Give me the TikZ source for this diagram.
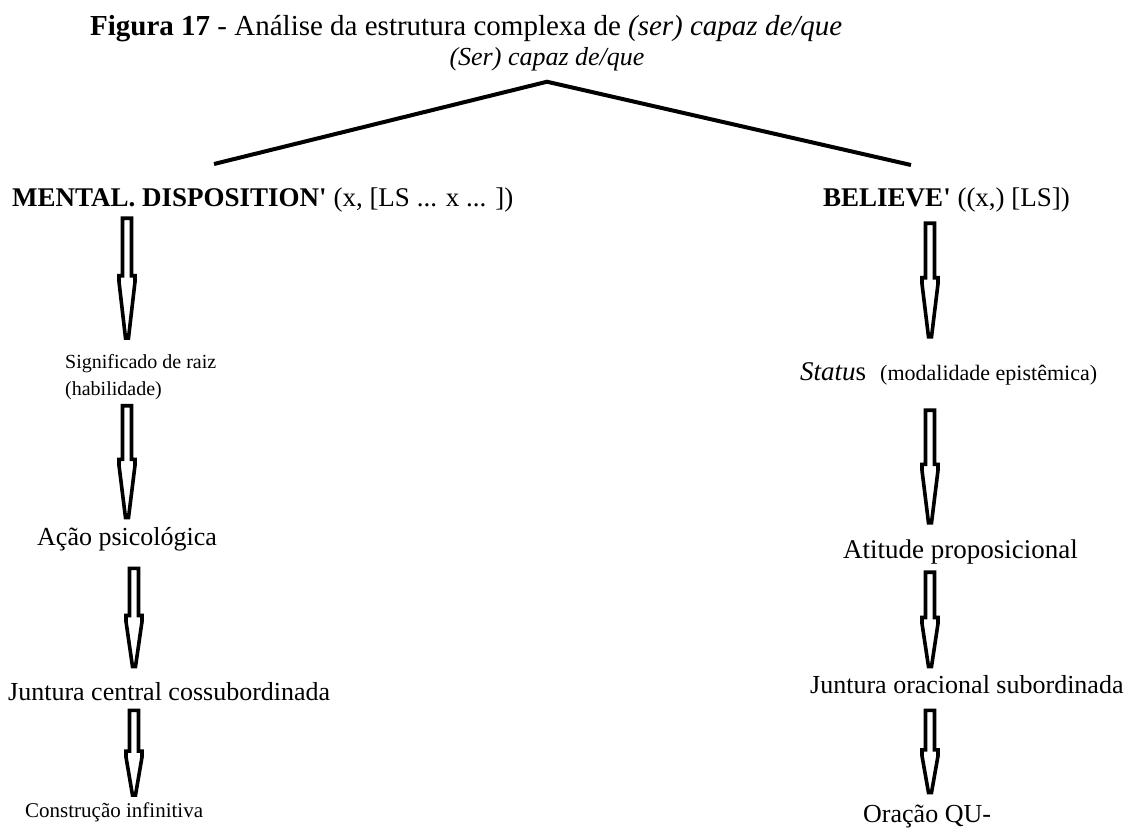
\documentclass[tikz,border=0pt]{standalone}
\usepackage{fontspec}
\setmainfont{Liberation Serif}
\usetikzlibrary{positioning,calc}

\newcommand{\fs}[1]{\fontsize{#1}{#1}\selectfont}

\tikzset{
  lbl/.style={inner sep=0pt, anchor=base west, font=\fs{#1},
    text height=\dimexpr #1pt*7/10\relax, text depth=\dimexpr #1pt*2/10\relax},
  branch/.style={line width=4pt},
  blockarr/.style={draw=black, fill=white, line width=3.6pt, line join=miter},
}

% hollow block arrow: from node, to node, column, top gap, tip gap
\newcommand{\blockarrow}[5]{%
  \draw[blockarr] let \p1=($(#1.south -| #3)+(0,#4)$), \p2=($(#2.north -| #3)+(0,-#5)$),
      \p3=($(\p1)!0.48!(\p2)$) in
    ({\x1-4.5pt},\y1) -- ({\x1+4.5pt},\y1) -- ({\x1+4.5pt},\y3) -- ({\x1+8pt},\y3)
    -- ({\x1+8pt},{\y3-6pt}) -- ({\x1+1.5pt},\y2) -- ({\x1-1.5pt},\y2)
    -- ({\x1-8pt},{\y3-6pt}) -- ({\x1-8pt},\y3) -- ({\x1-4.5pt},\y3) -- cycle;
}

\begin{document}
\begin{tikzpicture}[x=1pt, y=-1pt]
  \path[fill=white, use as bounding box] (0,0) rectangle (1130,830);

  % title and root
  \node[lbl=29] (caption) at (90,35)
    {\textbf{Figura 17} - Análise da estrutura complexa de \textit{(ser) capaz de/que}};
  \node[inner sep=0pt, anchor=base, font=\fs{26}\itshape] (root) at (547,65) {(Ser) capaz de/que};
  \coordinate[below=11pt of root] (apex);

  \node[lbl=27] (mental) at (12,206)
    {\textbf{MENTAL. DISPOSITION\textquotesingle} (x, [LS ... x ... ])};
  \node[lbl=27] (believe) at (823,206) {\textbf{BELIEVE\textquotesingle} ((x,) [LS])};

  \coordinate (lend) at (214,164);
  \coordinate (rend) at (911,165);
  \draw[branch] (lend) -- (apex) -- (rend);

  % left column
  \node[inner sep=0pt, anchor=north west, align=left, font=\fontsize{20}{27}\selectfont] (signif) at (65,354)
    {Significado de raiz\\(habilidade)};
  \node[lbl=26] (acao) at (37,545) {Ação psicológica};
  \node[lbl=26] (jcentral) at (8,700) {Juntura central cossubordinada};
  \node[lbl=21] (constr) at (25,817) {Construção infinitiva};

  % right column
  \node[lbl=27] (status) at (800,380)
    {\textit{Statu}s\hspace{14pt}{\fs{22}(modalidade epistêmica)}};
  \node[lbl=27] (atitude) at (843,558) {Atitude proposicional};
  \node[lbl=26] (joracional) at (810,693) {Juntura oracional subordinada};
  \node[lbl=26] (oracao) at (863,822) {Oração QU-};

  \coordinate (lcol) at (127,0);
  \coordinate (lcol2) at (134,0);
  \coordinate (rcol) at (930,0);

  \blockarrow{mental}{signif}{lcol}{6.6}{16}
  \blockarrow{signif}{acao}{lcol}{6}{9}
  \blockarrow{acao}{jcentral}{lcol2}{18}{15}
  \blockarrow{jcentral}{constr}{lcol2}{5}{7}

  \blockarrow{believe}{status}{rcol}{11.6}{24}
  \blockarrow{status}{atitude}{rcol}{24.6}{16}
  \blockarrow{atitude}{joracional}{rcol}{8.6}{8}
  \blockarrow{joracional}{oracao}{rcol}{12}{11}
\end{tikzpicture}
\end{document}
